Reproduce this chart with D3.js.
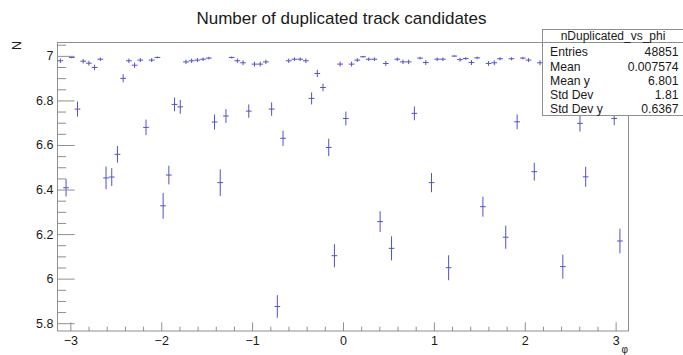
<!DOCTYPE html>
<html>
<head>
<meta charset="utf-8">
<script src="https://cdn.jsdelivr.net/npm/d3@7"></script>
<style>
  html, body { margin: 0; padding: 0; background: #fff; }
  svg { display: block; font-family: "Liberation Sans", Arial, Helvetica, sans-serif; }
</style>
</head>
<body>
<svg id="chart" width="683" height="355"></svg>
<script>
// Profile of nDuplicated vs phi: 100 bins in [-pi, pi]
const phiRange = [-Math.PI, Math.PI];
const nBins = 100;

// mean number of duplicated candidates per phi bin
const binMeans = [
  6.978, 6.408, 6.993, 6.761, 6.976, 6.967, 6.948, 6.985, 6.452, 6.456,
  6.558, 6.899, 6.978, 6.958, 6.981, 6.679, 6.981, 6.993, 6.327, 6.465,
  6.782, 6.771, 6.973, 6.978, 6.981, 6.985, 6.990, 6.703, 6.431, 6.730,
  6.993, 6.978, 6.969, 6.752, 6.963, 6.963, 6.973, 6.761, 5.875, 6.630,
  6.978, 6.985, 6.985, 6.978, 6.809, 6.921, 6.858, 6.589, 6.103, 6.963,
  6.719, 6.963, 6.981, 6.996, 6.985, 6.985, 6.256, 6.966, 6.136, 6.985,
  6.973, 6.973, 6.742, 6.990, 6.970, 6.431, 6.985, 6.985, 6.049, 6.999,
  6.983, 6.988, 6.970, 6.991, 6.323, 6.966, 6.969, 6.987, 6.186, 6.987,
  6.704, 6.990, 6.981, 6.480, 6.969, 6.985, 6.980, 6.988, 6.054, 6.982,
  6.986, 6.697, 6.457, 6.984, 6.979, 6.987, 6.983, 6.719, 6.169, 6.981
];

// error on the mean per bin
const binErrors = [
  0.010, 0.039, 0.004, 0.034, 0.010, 0.011, 0.012, 0.008, 0.051, 0.040,
  0.037, 0.018, 0.010, 0.012, 0.009, 0.035, 0.009, 0.004, 0.058, 0.042,
  0.031, 0.031, 0.010, 0.010, 0.009, 0.008, 0.006, 0.034, 0.060, 0.031,
  0.004, 0.010, 0.011, 0.030, 0.011, 0.011, 0.010, 0.030, 0.051, 0.034,
  0.010, 0.008, 0.008, 0.010, 0.027, 0.016, 0.017, 0.039, 0.052, 0.011,
  0.031, 0.011, 0.009, 0.004, 0.008, 0.008, 0.047, 0.011, 0.054, 0.008,
  0.010, 0.010, 0.031, 0.006, 0.011, 0.043, 0.008, 0.008, 0.056, 0.004,
  0.009, 0.006, 0.011, 0.006, 0.045, 0.011, 0.011, 0.007, 0.052, 0.007,
  0.033, 0.006, 0.009, 0.040, 0.011, 0.008, 0.010, 0.007, 0.054, 0.009,
  0.008, 0.037, 0.045, 0.008, 0.010, 0.007, 0.008, 0.030, 0.055, 0.009
];

const xTickValues = [-3, -2, -1, 0, 1, 2, 3];
const xTickLabels = ["\u22123", "\u22122", "\u22121", "0", "1", "2", "3"];
const yTickValues = [5.8, 6.0, 6.2, 6.4, 6.6, 6.8, 7.0];
const yTickLabels = ["5.8", "6", "6.2", "6.4", "6.6", "6.8", "7"];

const titleText = "Number of duplicated track candidates";
const xTitle = "\u03c6";
const yTitle = "N";

const statsName = "nDuplicated_vs_phi";
const statsLabels = ["Entries", "Mean", "Mean y", "Std Dev", "Std Dev y"];
const statsValues = ["48851", "0.007574", "6.801", "1.81", "0.6367"];

// ---- layout ----
const frame = { left: 57.5, right: 628.5, top: 42.5, bottom: 331 };
const axisColor = "#8f8f8f";
const textColor = "#1a1a1a";
const markColor = "#5252cc";

const svg = d3.select("#chart");

const x = d3.scaleLinear().domain(phiRange).range([frame.left, frame.right]);
const y = d3.scaleLinear().domain([5.765, 7.06]).range([frame.bottom, frame.top]);

const binWidth = (phiRange[1] - phiRange[0]) / nBins;
const bins = binMeans.map((m, i) => ({
  lo: phiRange[0] + i * binWidth,
  hi: phiRange[0] + (i + 1) * binWidth,
  mid: phiRange[0] + (i + 0.5) * binWidth,
  mean: m,
  err: binErrors[i]
}));

// frame
svg.append("rect")
  .attr("x", frame.left).attr("y", frame.top)
  .attr("width", frame.right - frame.left)
  .attr("height", frame.bottom - frame.top)
  .attr("fill", "none").attr("stroke", axisColor).attr("stroke-width", 1);

// error-bar markers
const marks = svg.append("g").attr("stroke", markColor).attr("stroke-width", 1).attr("fill", "none");
const pts = marks.selectAll("g.bin").data(bins).join("g").attr("class", "bin");
pts.append("line")
  .attr("x1", d => x(d.lo)).attr("x2", d => x(d.hi))
  .attr("y1", d => y(d.mean)).attr("y2", d => y(d.mean));
pts.append("line")
  .attr("x1", d => x(d.mid)).attr("x2", d => x(d.mid))
  .attr("y1", d => y(d.mean - d.err)).attr("y2", d => y(d.mean + d.err));

// x axis: major ticks at integers, minor every 0.2
const xMinor = d3.range(-3.0, 3.01, 0.2).filter(v => Math.abs(v - Math.round(v)) > 1e-6);
const xAxisMinor = svg.append("g")
  .attr("transform", `translate(0,${frame.bottom})`)
  .call(d3.axisBottom(x).tickValues(xMinor).tickSize(-4.3).tickSizeOuter(0).tickFormat(""));
const xAxis = svg.append("g")
  .attr("transform", `translate(0,${frame.bottom})`)
  .call(d3.axisBottom(x).tickValues(xTickValues).tickSize(-8.7).tickSizeOuter(0).tickPadding(5)
    .tickFormat((d, i) => xTickLabels[i]));

// y axis: major every 0.2, minor every 0.05
const yMinor = d3.range(5.80, 7.06, 0.05).filter(v => Math.abs(v * 5 - Math.round(v * 5)) > 1e-6);
const yAxisMinor = svg.append("g")
  .attr("transform", `translate(${frame.left},0)`)
  .call(d3.axisLeft(y).tickValues(yMinor).tickSize(-8.6).tickSizeOuter(0).tickFormat(""));
const yAxis = svg.append("g")
  .attr("transform", `translate(${frame.left},0)`)
  .call(d3.axisLeft(y).tickValues(yTickValues).tickSize(-17.1).tickSizeOuter(0).tickPadding(4)
    .tickFormat((d, i) => yTickLabels[i]));

[xAxisMinor, xAxis, yAxisMinor, yAxis].forEach(g => {
  g.select(".domain").remove();
  g.selectAll(".tick line").attr("stroke", axisColor);
  g.selectAll(".tick text").attr("fill", textColor).attr("font-size", 12.5)
    .attr("font-family", "'Liberation Sans', Arial, Helvetica, sans-serif");
});

// titles
svg.append("text")
  .attr("x", 341.5).attr("y", 24)
  .attr("text-anchor", "middle").attr("font-size", 17).attr("fill", textColor)
  .text(titleText);

svg.append("text")
  .attr("transform", "translate(21,41) rotate(-90)")
  .attr("text-anchor", "end").attr("font-size", 12.5).attr("fill", textColor)
  .text(yTitle);

svg.append("text")
  .attr("x", 628).attr("y", 353)
  .attr("text-anchor", "end").attr("font-size", 10).attr("fill", textColor)
  .text(xTitle);

// statistics box
const stats = svg.append("g");
stats.append("rect")
  .attr("x", 542.5).attr("y", 29.5).attr("width", 141).attr("height", 86)
  .attr("fill", "#fff").attr("stroke", axisColor).attr("stroke-width", 1);
stats.append("line")
  .attr("x1", 542.5).attr("x2", 683.5).attr("y1", 42.5).attr("y2", 42.5)
  .attr("stroke", axisColor).attr("stroke-width", 1);
stats.append("text")
  .attr("x", 613).attr("y", 39.5).attr("text-anchor", "middle")
  .attr("font-size", 12).attr("fill", textColor)
  .text(statsName);
statsLabels.forEach((lab, i) => {
  const by = 56.4 + i * 14.2;
  stats.append("text").attr("x", 550).attr("y", by)
    .attr("font-size", 12.2).attr("fill", textColor).text(lab);
  stats.append("text").attr("x", 678.5).attr("y", by).attr("text-anchor", "end")
    .attr("font-size", 12.2).attr("fill", textColor).text(statsValues[i]);
});
</script>
</body>
</html>
